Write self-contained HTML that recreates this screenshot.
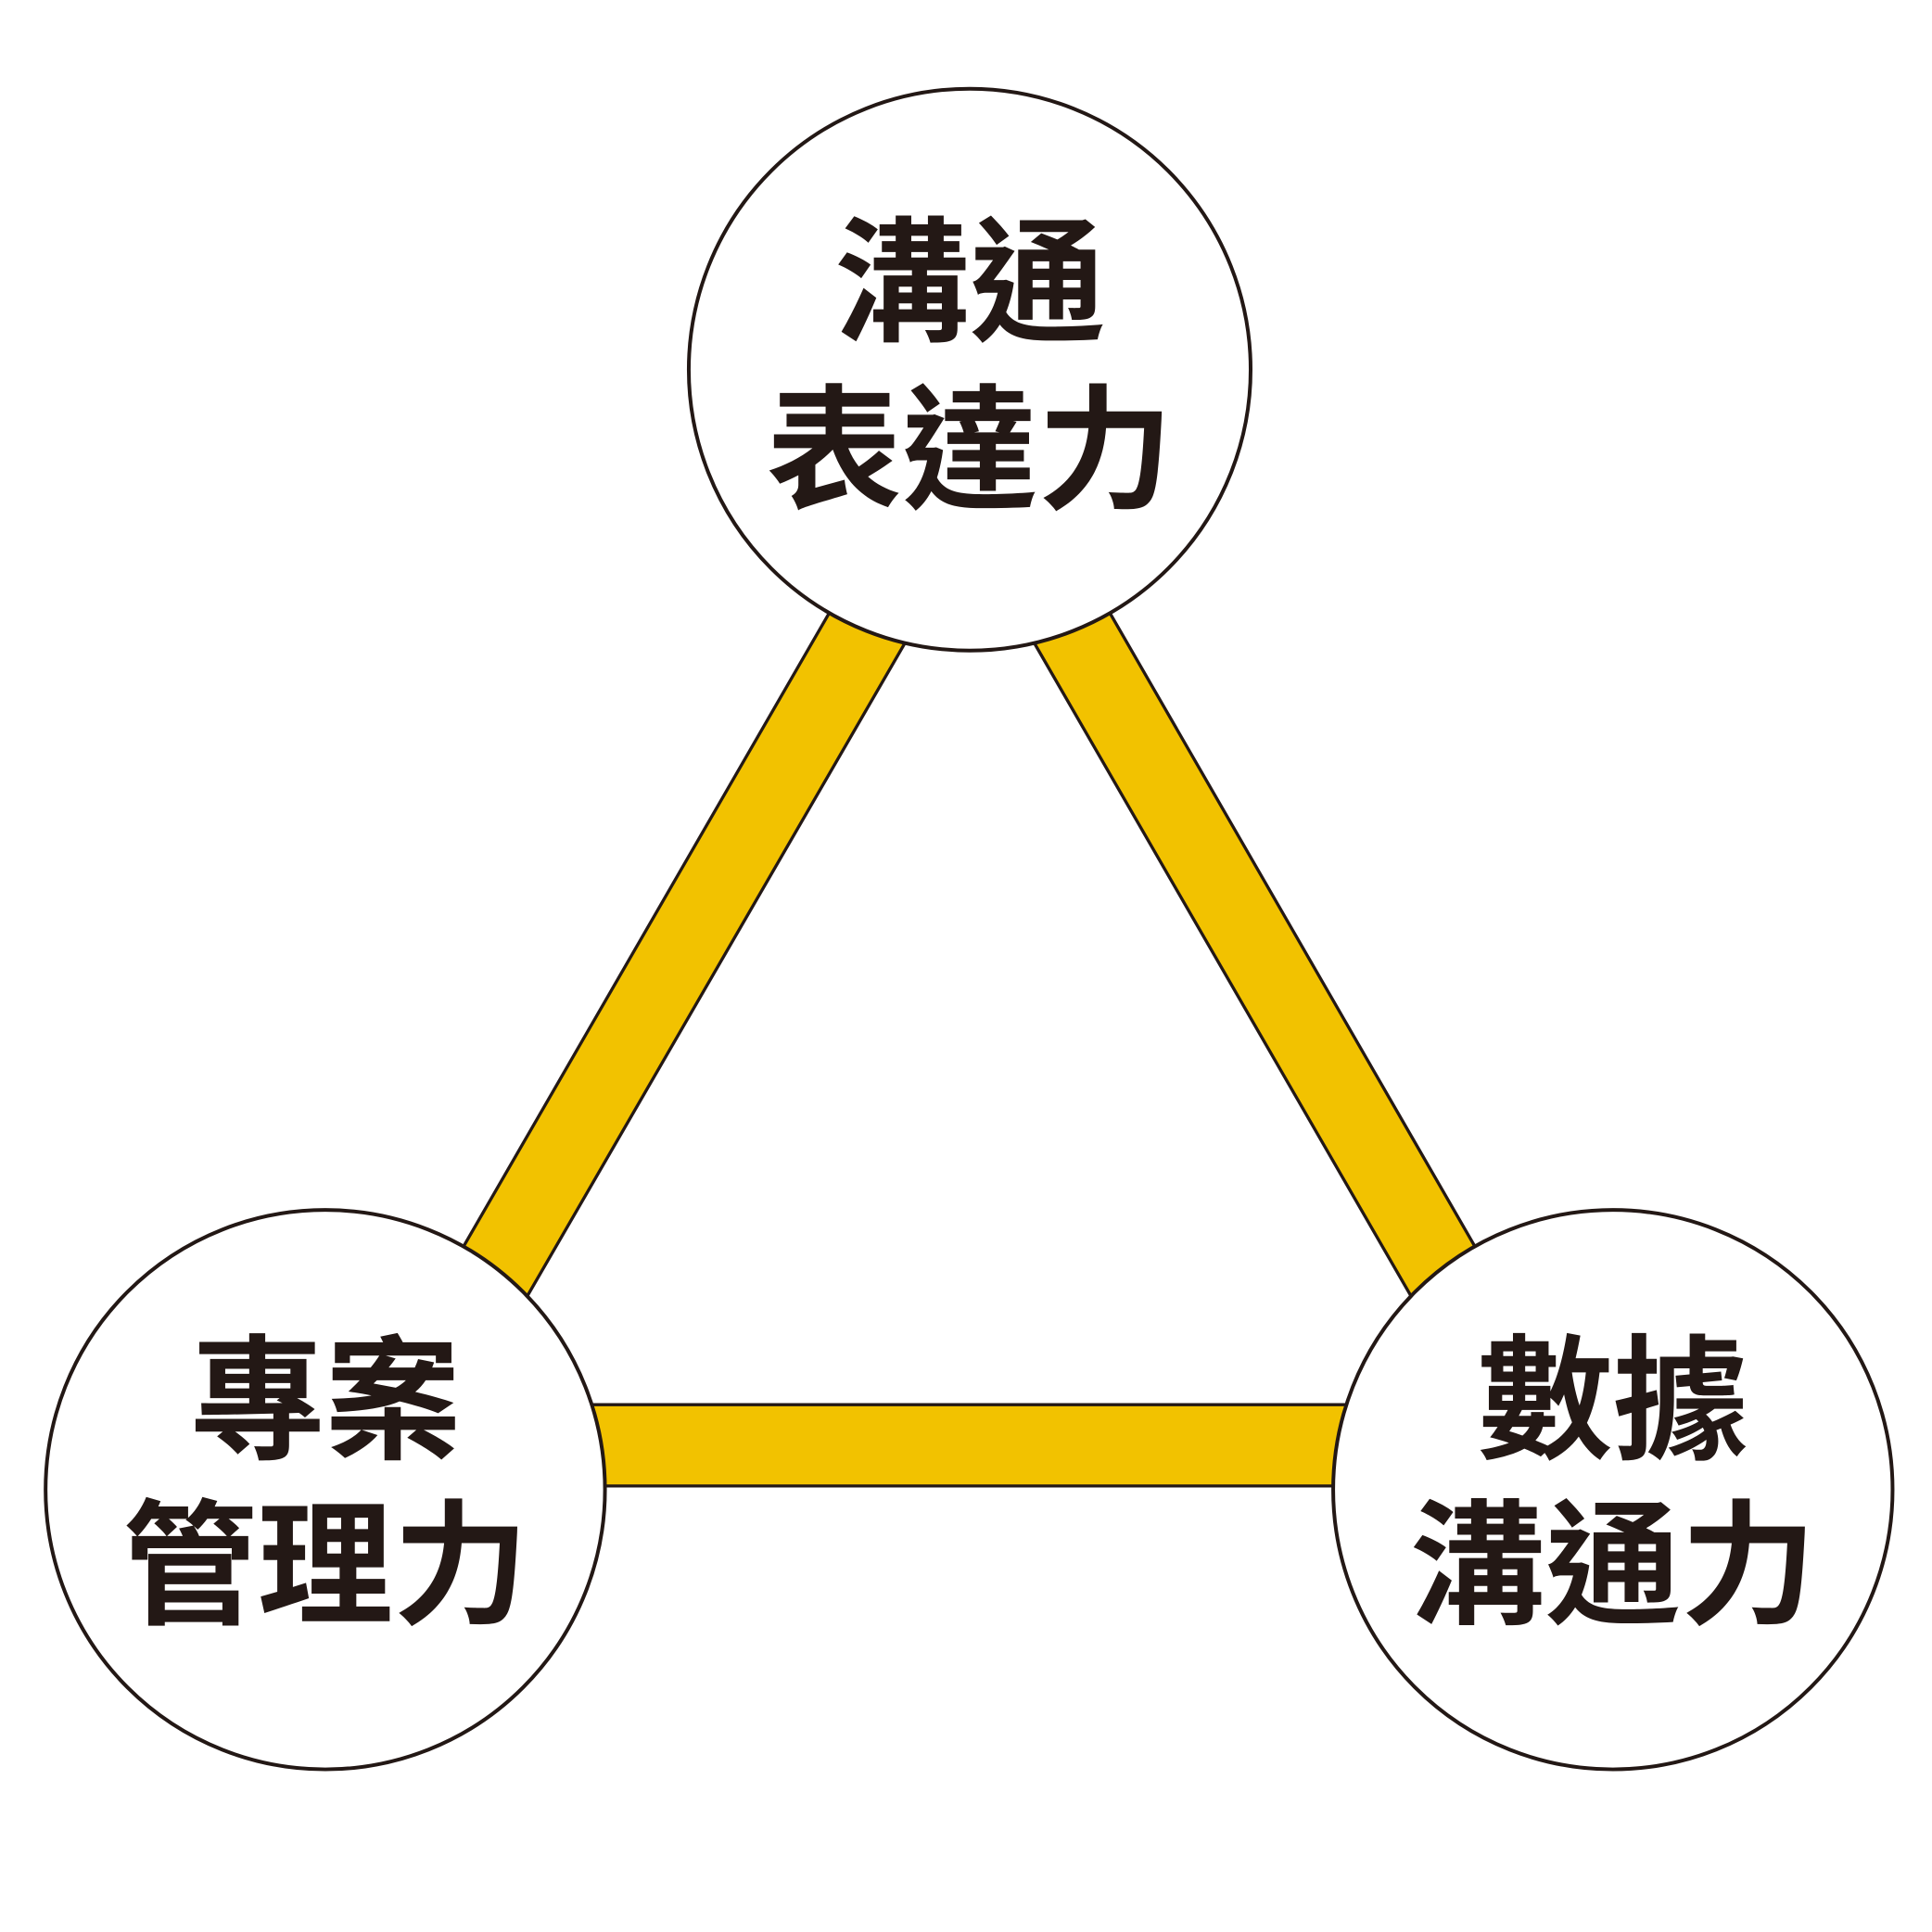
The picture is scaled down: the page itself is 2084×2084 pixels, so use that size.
<!DOCTYPE html>
<html><head><meta charset="utf-8"><style>html,body{margin:0;padding:0;background:#fff}svg{display:block}</style></head>
<body>
<svg width="2084" height="2084" viewBox="0 0 1568 1568" xmlns="http://www.w3.org/2000/svg">
<rect width="1568" height="1568" fill="#fff"/>
<path d="M787,300 L264,1206 L1309,1206 Z M787,431 L377,1140 L1196,1140 Z" fill="#F2C200" fill-rule="evenodd" stroke="#231815" stroke-width="2.5"/>
<circle cx="787" cy="300" r="228" fill="#fff" stroke="#231815" stroke-width="3"/>
<circle cx="264" cy="1209" r="227" fill="#fff" stroke="#231815" stroke-width="3"/>
<circle cx="1309" cy="1209" r="227" fill="#fff" stroke="#231815" stroke-width="3"/>
<g font-family="'Noto Sans CJK TC','Noto Sans CJK SC',sans-serif" font-weight="700" font-size="110" fill="#231815" text-anchor="middle" dominant-baseline="central">
<text x="787" y="221">溝通</text>
<text x="787" y="357">表達力</text>
<text x="264" y="1128">專案</text>
<text x="264" y="1262">管理力</text>
<text x="1309" y="1128">數據</text>
<text x="1309" y="1262">溝通力</text>
</g>
</svg>
</body></html>
